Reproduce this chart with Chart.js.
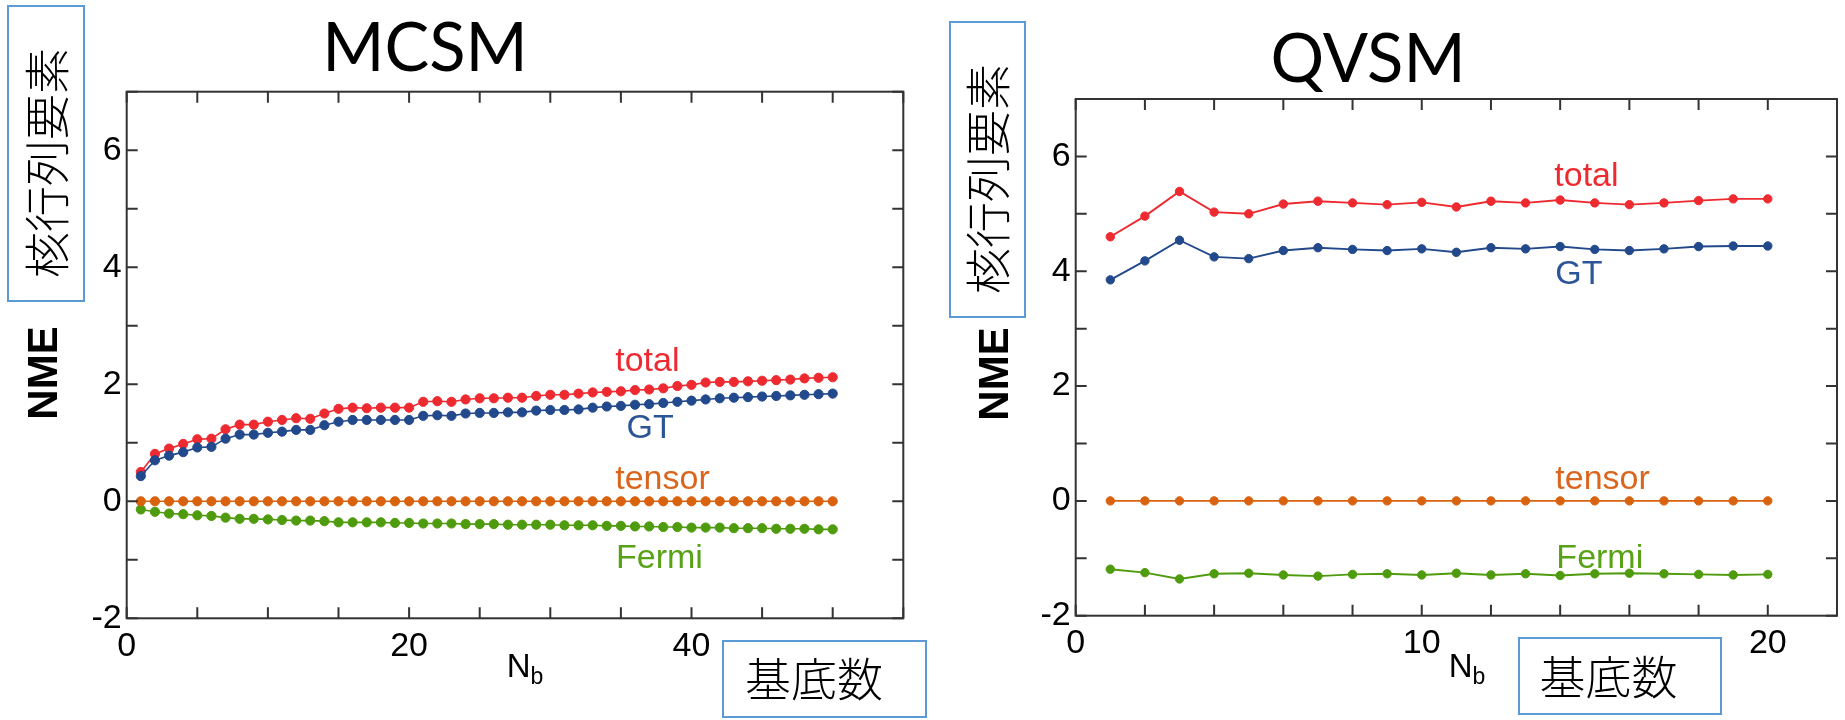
<!DOCTYPE html>
<html><head><meta charset="utf-8">
<script src="https://cdn.jsdelivr.net/npm/chart.js@4.4.0/dist/chart.umd.min.js"></script>
<style>
html,body{margin:0;padding:0;background:#fff;}
#page{position:relative;width:1845px;height:720px;overflow:hidden;background:#fff;}
canvas{position:absolute;top:0;}
.t{position:absolute;white-space:nowrap;line-height:1;transform:translate(-50%,-50%);color:#000;}
.r{transform:translate(-50%,-50%) rotate(-90deg);}
.box{position:absolute;border:2px solid #5b9bd5;box-sizing:border-box;}
.title{font-family:'Lato';font-size:67px;}
.nme{font-family:'Liberation Sans';font-weight:bold;font-size:42px;}
.cjk{font-family:'Noto Sans CJK JP';font-size:46px;font-weight:300;}
.nb{font-family:'Liberation Sans';font-size:33px;}
.nb sub{font-size:23px;vertical-align:-7px;}
</style></head>
<body><div id="page">
<canvas id="c1" width="925" height="720" style="left:0"></canvas>
<canvas id="c2" width="920" height="720" style="left:925px"></canvas>

<div class="t title" style="left:425px;top:45px">MCSM</div>
<div class="t title" style="left:1368px;top:56px">QVSM</div>

<div class="box" style="left:7px;top:5px;width:78px;height:297px"></div>
<div class="t r cjk" style="left:44px;top:163px">核行列要素</div>
<div class="box" style="left:949px;top:21px;width:77px;height:297px"></div>
<div class="t r cjk" style="left:985px;top:179px">核行列要素</div>

<div class="t r nme" style="left:42.5px;top:373px">NME</div>
<div class="t r nme" style="left:994px;top:374px">NME</div>

<div class="t nb" style="left:525px;top:668px">N<sub>b</sub></div>
<div class="t nb" style="left:1467px;top:668px">N<sub>b</sub></div>

<div class="box" style="left:722px;top:640px;width:205px;height:78px"></div>
<div class="t cjk" style="left:814px;top:676px">基底数</div>
<div class="box" style="left:1518px;top:637px;width:204px;height:78px"></div>
<div class="t cjk" style="left:1608.5px;top:674px">基底数</div>
</div>
<script>
// ---------- data ----------
const mcsmNb = [1,2,3,4,5,6,7,8,9,10,11,12,13,14,15,16,17,18,19,20,21,22,23,24,25,26,27,28,29,30,31,32,33,34,35,36,37,38,39,40,41,42,43,44,45,46,47,48,49,50];
const mcsmTotal = [0.50,0.81,0.90,0.98,1.06,1.07,1.23,1.31,1.31,1.36,
                   1.39,1.42,1.41,1.50,1.58,1.60,1.59,1.60,1.60,1.60,
                   1.70,1.71,1.70,1.74,1.76,1.76,1.77,1.77,1.80,1.82,
                   1.82,1.84,1.86,1.87,1.88,1.90,1.91,1.93,1.97,1.99,
                   2.03,2.04,2.04,2.05,2.06,2.07,2.08,2.10,2.11,2.12];
const mcsmGT = [0.43,0.70,0.78,0.84,0.92,0.93,1.07,1.14,1.14,1.17,
                1.19,1.22,1.22,1.30,1.36,1.39,1.39,1.39,1.39,1.39,
                1.46,1.47,1.46,1.50,1.51,1.51,1.52,1.52,1.55,1.56,
                1.56,1.57,1.60,1.62,1.63,1.65,1.66,1.68,1.70,1.72,
                1.74,1.76,1.77,1.78,1.79,1.80,1.81,1.82,1.83,1.84];
const mcsmTensor = [0,0,0,0,0,0,0,0,0,0, 0,0,0,0,0,0,0,0,0,0, 0,0,0,0,0,0,0,0,0,0, 0,0,0,0,0,0,0,0,0,0, 0,0,0,0,0,0,0,0,0,0];
const mcsmFermi = [-0.14,-0.18,-0.21,-0.22,-0.24,-0.25,-0.28,-0.30,-0.30,-0.31,
                   -0.32,-0.33,-0.33,-0.34,-0.36,-0.36,-0.36,-0.36,-0.37,-0.37,
                   -0.38,-0.38,-0.38,-0.39,-0.39,-0.39,-0.40,-0.40,-0.40,-0.40,
                   -0.41,-0.41,-0.41,-0.42,-0.42,-0.43,-0.43,-0.44,-0.44,-0.45,
                   -0.45,-0.45,-0.46,-0.46,-0.46,-0.47,-0.47,-0.47,-0.48,-0.48];

const qvsmNb = [1,2,3,4,5,6,7,8,9,10,11,12,13,14,15,16,17,18,19,20];
const qvsmTotal = [4.60,4.96,5.39,5.03,5.00,5.17,5.22,5.19,5.16,5.20,5.12,5.22,5.19,5.24,5.19,5.16,5.19,5.23,5.26,5.26];
const qvsmGT = [3.85,4.18,4.54,4.25,4.22,4.36,4.41,4.38,4.36,4.39,4.33,4.41,4.39,4.43,4.38,4.36,4.39,4.43,4.44,4.44];
const qvsmTensor = [0,0,0,0,0,0,0,0,0,0,0,0,0,0,0,0,0,0,0,0];
const qvsmFermi = [-1.19,-1.25,-1.36,-1.27,-1.26,-1.29,-1.31,-1.28,-1.27,-1.29,-1.26,-1.29,-1.27,-1.30,-1.27,-1.26,-1.27,-1.28,-1.29,-1.28];

const mcsmXTickLabels = [0,20,40];
const qvsmXTickLabels = [0,10,20];
const nmeTickLabels = [-2,0,2,4,6];
const seriesNames = ['total','GT','tensor','Fermi'];

// ---------- styles ----------
const COL = {total:'#ee2a31', GT:'#22498b', tensor:'#d9620f', Fermi:'#4f9b0e'};
const TXT = {total:'#ee2a31', GT:'#2b5597', tensor:'#d9661c', Fermi:'#58a215'};

const framePlugin = {
  id:'frame',
  afterDraw(chart){
    const {ctx, chartArea:a, scales:{x,y}} = chart;
    ctx.save();
    ctx.strokeStyle = '#333'; ctx.lineWidth = 2;
    ctx.strokeRect(a.left, a.top, a.right-a.left, a.bottom-a.top);
    const L = 11;
    ctx.beginPath();
    x.ticks.forEach(t => {
      const p = x.getPixelForValue(t.value);
      ctx.moveTo(p, a.bottom); ctx.lineTo(p, a.bottom-L);
      ctx.moveTo(p, a.top); ctx.lineTo(p, a.top+L);
    });
    y.ticks.forEach(t => {
      const p = y.getPixelForValue(t.value);
      ctx.moveTo(a.left, p); ctx.lineTo(a.left+L, p);
      ctx.moveTo(a.right, p); ctx.lineTo(a.right-L, p);
    });
    ctx.stroke();
    ctx.restore();
  }
};
const labelPlugin = {
  id:'seriesLabels',
  afterDatasetsDraw(chart, args, opts){
    const {ctx, scales:{x,y}} = chart;
    ctx.save();
    ctx.font = '34px "Liberation Sans"';
    ctx.textAlign = 'left'; ctx.textBaseline = 'alphabetic';
    (opts.items||[]).forEach(it => {
      ctx.fillStyle = TXT[it.text];
      ctx.fillText(it.text, x.getPixelForValue(it.x), y.getPixelForValue(it.y));
    });
    ctx.restore();
  }
};

function ds(name, xs, ys, r, lw){
  return {
    label:name, data: xs.map((v,i)=>({x:v, y:ys[i]})),
    borderColor: COL[name], backgroundColor: COL[name],
    pointBackgroundColor: COL[name], pointBorderColor: COL[name],
    borderWidth: lw, pointRadius: r, pointBorderWidth: 1, pointHoverRadius: r, tension: 0
  };
}

function makeChart(id, c){
  return new Chart(document.getElementById(id), {
    type:'line',
    data:{ datasets:[
      ds('GT', c.nb, c.gt, c.r, c.lw),
      ds('total', c.nb, c.total, c.r, c.lw),
      ds('tensor', c.nb, c.tensor, c.r, c.lw),
      ds('Fermi', c.nb, c.fermi, c.r, c.lw)
    ]},
    options:{
      responsive:false, animation:false, devicePixelRatio:1,
      layout:{padding:{left:0, top:c.top, right:c.right, bottom:0}},
      plugins:{legend:{display:false}, tooltip:{enabled:false}, seriesLabels:{items:c.labels}},
      scales:{
        x:{type:'linear', min:0, max:c.xmax,
           grid:{display:false, drawTicks:false}, border:{display:false},
           ticks:{stepSize:c.xstep, autoSkip:false, maxRotation:0, padding:8, color:'#000',
                  font:{family:'Liberation Sans', size:34},
                  callback:v => c.xlabels.includes(v) ? String(v) : ''},
           afterFit:s => { s.height = c.xh; }},
        y:{type:'linear', min:-2, max:7,
           grid:{display:false, drawTicks:false}, border:{display:false},
           ticks:{stepSize:1, autoSkip:false, padding:5, color:'#000',
                  font:{family:'Liberation Sans', size:34},
                  callback:v => nmeTickLabels.includes(v) ? String(v) : ''},
           afterFit:s => { s.width = c.yw; }}
      }
    },
    plugins:[framePlugin, labelPlugin]
  });
}

makeChart('c1', {
  nb:mcsmNb, total:mcsmTotal, gt:mcsmGT, tensor:mcsmTensor, fermi:mcsmFermi,
  r:4.6, lw:1.6, top:91.7, right:21.7, xh:101.7, yw:126.7, xmax:55, xstep:5, xlabels:mcsmXTickLabels,
  labels:[{text:'total',x:34.6,y:2.23},{text:'GT',x:35.4,y:1.08},{text:'tensor',x:34.6,y:0.21},{text:'Fermi',x:34.65,y:-1.14}]
});
makeChart('c2', {
  nb:qvsmNb, total:qvsmTotal, gt:qvsmGT, tensor:qvsmTensor, fermi:qvsmFermi,
  r:4.2, lw:1.9, top:99, right:6.7, xh:104.3, yw:150.7, xmax:22, xstep:2, xlabels:qvsmXTickLabels,
  labels:[{text:'total',x:13.83,y:5.48},{text:'GT',x:13.86,y:3.78},{text:'tensor',x:13.86,y:0.21},{text:'Fermi',x:13.89,y:-1.17}]
});
</script>
</body></html>
